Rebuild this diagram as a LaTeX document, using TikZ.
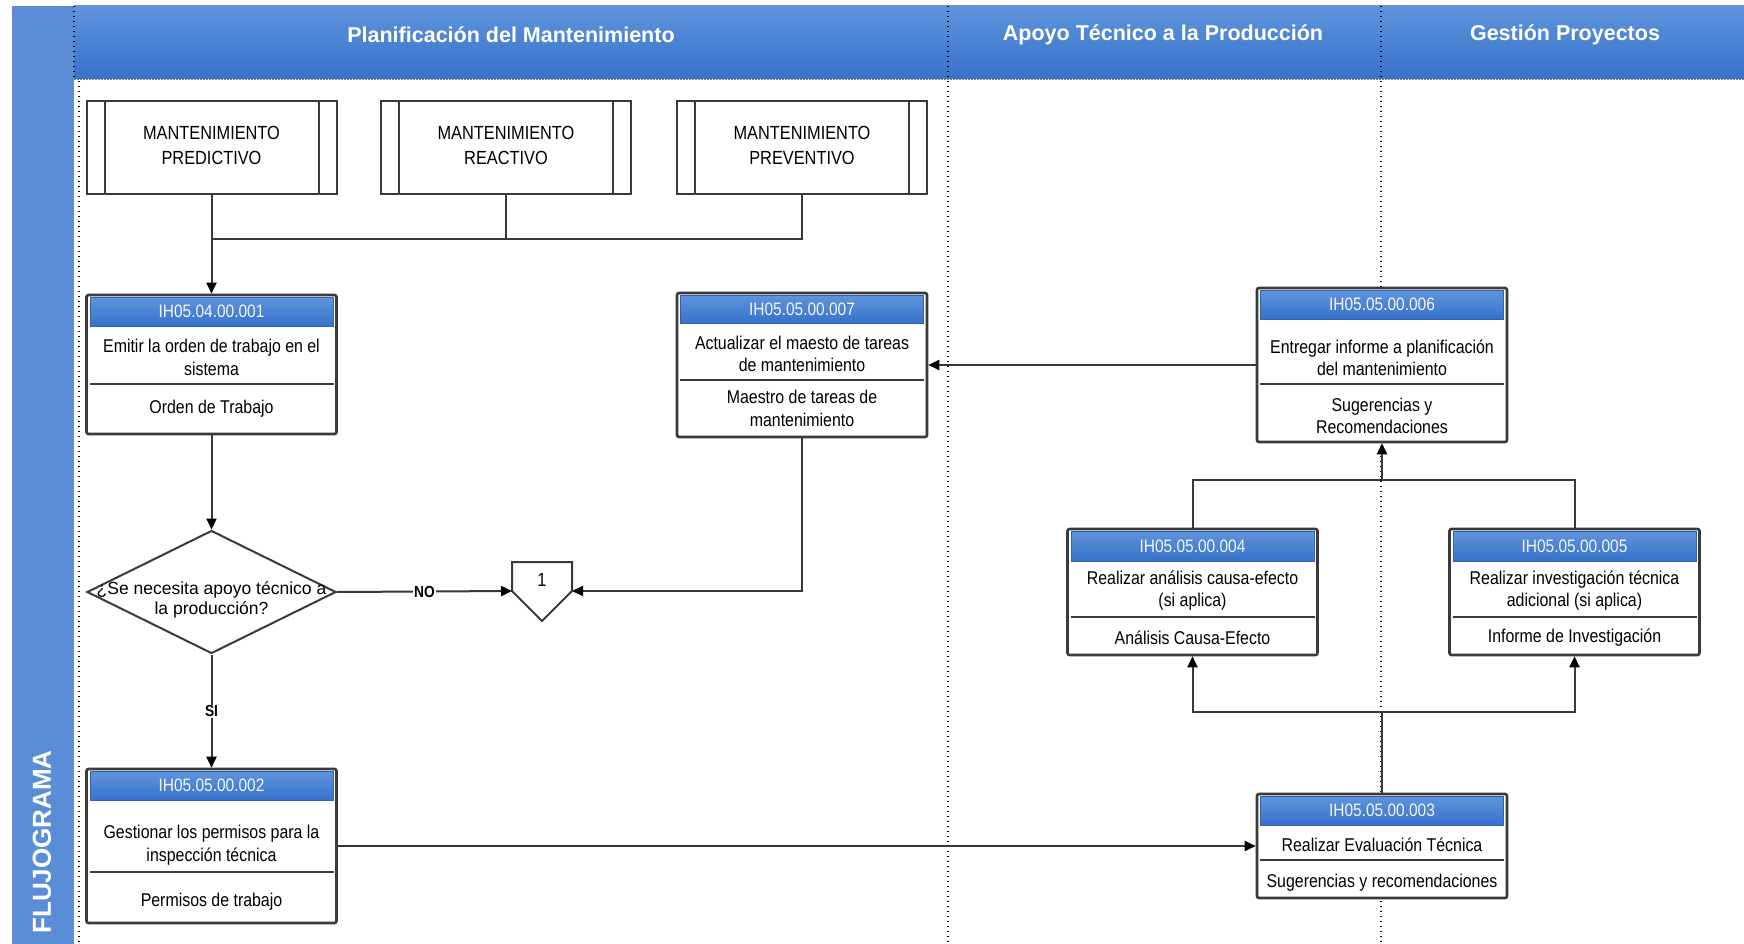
\documentclass[tikz,border=0pt]{standalone}
\usepackage{fontspec}
\setmainfont{Liberation Sans}
\newfontfamily\narrowsans[FakeStretch=0.86]{Liberation Sans}
\usetikzlibrary{arrows.meta,shapes.geometric,calc}

\definecolor{bandblue}{HTML}{5B8DD7}
\definecolor{hdrtop}{HTML}{5F94DC}
\definecolor{hdrbot}{HTML}{3772CA}
\definecolor{hdredge}{HTML}{2F62B0}
\definecolor{boxgray}{HTML}{3A3A3A}
\definecolor{linegray}{HTML}{383838}

\tikzset{
  conn/.style={draw=linegray, line width=2pt},
  arr/.style={conn, -{Triangle[length=11pt,width=10pt,color=black]}},
  lane/.style={draw=black, line width=1.4pt, dash pattern=on 1.3pt off 3.7pt},
  pbox/.style={rectangle, draw=boxgray, line width=2.6pt, rounded corners=2pt,
    fill=white, minimum width=250pt, inner sep=0pt},
  subbox/.style={rectangle, draw=boxgray, line width=2pt, fill=white,
    minimum width=250pt, minimum height=93pt, inner sep=0pt},
  hdrshade/.style={top color=hdrtop, bottom color=hdrbot, draw=hdredge, line width=0.8pt},
  idtext/.style={text=white!92!gray, font=\narrowsans\fontsize{18}{20}\selectfont},
  bodytext/.style={align=center, text=black, inner sep=0pt,
    font=\narrowsans\fontsize{18.5}{22.5}\selectfont},
  captext/.style={align=center, text=black, inner sep=0pt,
    font=\narrowsans\fontsize{19}{25}\selectfont},
  lanetitle/.style={text=white, font=\bfseries\fontsize{21.5}{24}\selectfont},
  lbl/.style={fill=white, inner sep=0.8pt, text=black,
    font=\narrowsans\bfseries\fontsize{16}{18}\selectfont},
}

% process box: name, centre x, top, bottom, header bottom, divider, code
\newcommand{\procbox}[7]{%
  \node[pbox, minimum height={#4-#3}] (#1) at (#2,{(#3+#4)/2}) {};
  \shade[hdrshade] (#2-121.5,#3+2.5) rectangle (#2+121.5,#5);
  \draw[draw=boxgray, line width=2pt] (#2-122,#6) -- (#2+122,#6);
  \node[idtext] (#1-id) at (#2,{(#3+#5)/2+1}) {#7};
}

\begin{document}
\begin{tikzpicture}[x=1pt,y=-1pt]
\useasboundingbox (0,0) rectangle (1744,944);

% swimlane frame
\fill[bandblue] (12,6) rectangle (74,944);
\shade[top color=hdrtop, bottom color=hdrbot] (74,6) rectangle (1744,79);
\draw[draw=gray, line width=1.2pt, dash pattern=on 1.5pt off 1.5pt] (74,79.5) -- (1744,79.5);
\draw[lane] (74,6) -- (74,79);
\draw[lane] (79,81) -- (79,944);
\draw[lane] (948,6) -- (948,944);
\draw[lane] (1381,6) -- (1381,944);

\node[lanetitle] (t1) at (511,35) {Planificación del Mantenimiento};
\node[lanetitle] (t2) at (1163,35) {Apoyo Técnico a la Producción};
\node[lanetitle] (t3) at (1565,35) {Gestión Proyectos};
\node[rotate=90, text=white, font=\bfseries\fontsize{26}{28}\selectfont] (fl) at (42,842) {FLUJOGRAMA};

% maintenance types
\foreach \nm/\cx/\txt in {pred/211.5/PREDICTIVO, reac/506/REACTIVO, prev/802/PREVENTIVO}{
  \node[subbox] (\nm) at (\cx,147.5) {};
  \draw[draw=boxgray, line width=2pt] ($(\nm.north west)+(19,0)$) -- ($(\nm.south west)+(19,0)$);
  \draw[draw=boxgray, line width=2pt] ($(\nm.north east)+(-19,0)$) -- ($(\nm.south east)+(-19,0)$);
  \node[captext] (\nm-t) at (\cx,145) {MANTENIMIENTO\\\txt};
}

% process boxes
\procbox{b001}{211.5}{295}{434}{326}{384}{IH05.04.00.001}
\node[bodytext] (b001-a) at (211.5,357.5) {Emitir la orden de trabajo en el\\sistema};
\node[bodytext] (b001-o) at (211.5,409) {Orden de Trabajo};

\procbox{b007}{802}{293}{437}{323}{380}{IH05.05.00.007}
\node[bodytext] (b007-a) at (802,354) {Actualizar el maesto de tareas\\de mantenimiento};
\node[bodytext] (b007-o) at (802,408.5) {Maestro de tareas de\\mantenimiento};

\procbox{b006}{1382}{288}{442}{319}{384}{IH05.05.00.006}
\node[bodytext] (b006-a) at (1382,358) {Entregar informe a planificación\\del mantenimiento};
\node[bodytext] (b006-o) at (1382,416) {Sugerencias y\\Recomendaciones};

\procbox{b004}{1192.5}{529}{655}{561}{617}{IH05.05.00.004}
\node[bodytext] (b004-a) at (1192.5,590.5) {Realizar análisis causa-efecto\\(si aplica)};
\node[bodytext] (b004-o) at (1192.5,638) {Análisis Causa-Efecto};

\procbox{b005}{1574.5}{529}{655}{561}{617}{IH05.05.00.005}
\node[bodytext] (b005-a) at (1574.5,590.5) {Realizar investigación técnica\\adicional (si aplica)};
\node[bodytext] (b005-o) at (1574.5,638) {Informe de Investigación};

\procbox{b003}{1382}{794}{898}{825}{860}{IH05.05.00.003}
\node[bodytext] (b003-a) at (1382,845) {Realizar Evaluación Técnica};
\node[bodytext] (b003-o) at (1382,883) {Sugerencias y recomendaciones};

\procbox{b002}{211.5}{769}{923}{800}{872}{IH05.05.00.002}
\node[bodytext] (b002-a) at (211.5,845) {Gestionar los permisos para la\\inspección técnica};
\node[bodytext] (b002-o) at (211.5,902) {Permisos de trabajo};

% decision
\node[diamond, draw=boxgray, line width=2pt, fill=white, inner sep=0pt,
      minimum width=249pt, minimum height=123pt] (dec) at (211.5,592) {};
\node[align=center, inner sep=0pt, font=\fontsize{17.5}{20}\selectfont] (dec-t) at (211.5,600)
  {¿Se necesita apoyo técnico a\\la producción?};

% off-page connector
\draw[draw=boxgray, line width=2pt, fill=white]
  (512,562) -- (572,562) -- (572,591) -- (542,621) -- (512,591) -- cycle;
\coordinate (pL) at (512,591);
\coordinate (pR) at (572,591);
\node[font=\narrowsans\fontsize{19}{20}\selectfont] (p1) at (542,580) {1};

% connectors
\coordinate (j1) at (211.5,239);
\draw[arr] (pred) -- (b001);
\draw[conn] (reac.south) |- (j1);
\draw[conn] (prev.south) |- (reac.south |- j1);
\draw[arr] (b001) -- (dec);
\draw[arr] (dec.east) -- node[lbl] {NO} (pL);
\draw[arr] (dec.south) -- node[lbl] {SI} (b002.north);
\draw[arr] (b007.south) |- (pR);
\draw[arr] (b002) -- (b003);
\coordinate (j3) at (1382,712);
\draw[conn] (b003.north) -- (j3);
\draw[arr] (j3) -| (b004.south);
\draw[arr] (j3) -| (b005.south);
\coordinate (j2) at (1382,480);
\draw[conn] (b004.north) |- (b005.north |- j2) -- (b005.north);
\draw[arr] (j2) -- (b006.south);
\draw[arr] (b006) -- (b007);
\end{tikzpicture}
\end{document}
